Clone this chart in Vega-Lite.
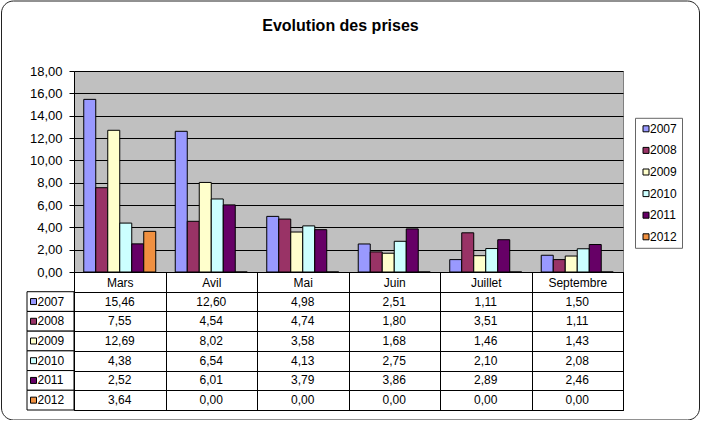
{
  "$schema": "https://vega.github.io/schema/vega-lite/v6.json",
  "background": "white",
  "padding": 0,
  "title": {"text": "Evolution des prises", "font": "Liberation Sans", "fontSize": 16, "fontWeight": "bold", "color": "black", "anchor": "middle", "offset": 17.5, "dx": -9.5, "dy": 64, "baseline": "alphabetic"},
  "datasets": {
    "d": [
      {"m": "Mars", "y": "2007", "v": 15.46}, {"m": "Avil", "y": "2007", "v": 12.60}, {"m": "Mai", "y": "2007", "v": 4.98}, {"m": "Juin", "y": "2007", "v": 2.51}, {"m": "Juillet", "y": "2007", "v": 1.11}, {"m": "Septembre", "y": "2007", "v": 1.50},
      {"m": "Mars", "y": "2008", "v": 7.55}, {"m": "Avil", "y": "2008", "v": 4.54}, {"m": "Mai", "y": "2008", "v": 4.74}, {"m": "Juin", "y": "2008", "v": 1.80}, {"m": "Juillet", "y": "2008", "v": 3.51}, {"m": "Septembre", "y": "2008", "v": 1.11},
      {"m": "Mars", "y": "2009", "v": 12.69}, {"m": "Avil", "y": "2009", "v": 8.02}, {"m": "Mai", "y": "2009", "v": 3.58}, {"m": "Juin", "y": "2009", "v": 1.68}, {"m": "Juillet", "y": "2009", "v": 1.46}, {"m": "Septembre", "y": "2009", "v": 1.43},
      {"m": "Mars", "y": "2010", "v": 4.38}, {"m": "Avil", "y": "2010", "v": 6.54}, {"m": "Mai", "y": "2010", "v": 4.13}, {"m": "Juin", "y": "2010", "v": 2.75}, {"m": "Juillet", "y": "2010", "v": 2.10}, {"m": "Septembre", "y": "2010", "v": 2.08},
      {"m": "Mars", "y": "2011", "v": 2.52}, {"m": "Avil", "y": "2011", "v": 6.01}, {"m": "Mai", "y": "2011", "v": 3.79}, {"m": "Juin", "y": "2011", "v": 3.86}, {"m": "Juillet", "y": "2011", "v": 2.89}, {"m": "Septembre", "y": "2011", "v": 2.46},
      {"m": "Mars", "y": "2012", "v": 3.64}, {"m": "Avil", "y": "2012", "v": 0}, {"m": "Mai", "y": "2012", "v": 0}, {"m": "Juin", "y": "2012", "v": 0}, {"m": "Juillet", "y": "2012", "v": 0}, {"m": "Septembre", "y": "2012", "v": 0}
    ]
  },
  "columns": 2,
  "spacing": 0,
  "bounds": "flush",
  "align": "each",
  "concat": [
    {
      "width": 47, "height": 201,
      "data": {"values": []},
      "view": {"stroke": null},
      "mark": "point",
      "encoding": {}
    },
    {
      "width": 549, "height": 201,
      "data": {"name": "d"},
      "view": {"fill": "#C0C0C0", "stroke": "#808080"},
      "mark": {"type": "bar", "stroke": "black", "strokeWidth": 1, "opacity": 1},
      "encoding": {
        "x": {"field": "m", "type": "nominal", "scale": {"domain": ["Mars", "Avil", "Mai", "Juin", "Juillet", "Septembre"], "paddingInner": 0.2131, "paddingOuter": 0.1066}, "axis": null},
        "xOffset": {"field": "y", "type": "nominal", "scale": {"domain": ["2007", "2008", "2009", "2010", "2011", "2012"], "paddingInner": 0, "paddingOuter": 0}},
        "y": {"field": "v", "type": "quantitative", "scale": {"domain": [0, 18], "nice": false, "zero": true},
          "axis": {"values": [0, 2, 4, 6, 8, 10, 12, 14, 16, 18], "labelExpr": "replace(format(datum.value, '.2f'), '.', ',')", "title": null, "grid": true, "gridColor": "black", "gridOpacity": 1, "gridWidth": 1, "domain": true, "domainColor": "black", "ticks": true, "tickColor": "black", "tickSize": 5, "labelPadding": 7, "labelFont": "Liberation Sans", "labelFontSize": 13, "labelColor": "black"}},
        "color": {"field": "y", "type": "nominal",
          "scale": {"domain": ["2007", "2008", "2009", "2010", "2011", "2012"], "range": ["#9999FF", "#993366", "#FFFFCC", "#CCFFFF", "#660066", "#F09040"]},
          "legend": {"orient": "none", "legendX": 608, "legendY": 46.8, "title": null, "symbolType": "square", "symbolSize": 36, "symbolStrokeColor": "black", "symbolStrokeWidth": 1, "symbolOpacity": 1, "labelFont": "Liberation Sans", "labelFontSize": 12, "labelColor": "black", "padding": 5, "strokeColor": "#666666", "rowPadding": 9.6, "labelOffset": -2, "fillColor": "white"}}
      }
    },
    {
      "width": 47, "height": 138,
      "data": {"name": "d"},
      "transform": [{"filter": "datum.m == 'Mars'"}],
      "view": {"stroke": null},
      "encoding": {
        "y": {"field": "y", "type": "nominal", "scale": {"domain": ["", "2007", "2008", "2009", "2010", "2011", "2012"], "paddingInner": 0, "paddingOuter": 0}, "axis": null}
      },
      "layer": [
        {"mark": {"type": "rect", "fill": "white", "stroke": "black", "strokeWidth": 1}},
        {"mark": {"type": "point", "shape": "square", "filled": true, "size": 36, "stroke": "black", "strokeWidth": 1, "opacity": 1, "xOffset": -17},
         "encoding": {"color": {"field": "y", "type": "nominal"}}},
        {"mark": {"type": "text", "align": "left", "dx": -13, "font": "Liberation Sans", "fontSize": 12, "color": "black"},
         "encoding": {"text": {"field": "y"}}}
      ]
    },
    {
      "width": 549, "height": 138,
      "data": {"name": "d"},
      "view": {"stroke": "black", "fill": "white"},
      "transform": [{"calculate": "replace(format(datum.v, '.2f'), '.', ',')", "as": "lab"}],
      "mark": {"type": "text", "font": "Liberation Sans", "fontSize": 12, "color": "black", "strokeOpacity": 0},
      "encoding": {
        "x": {"field": "m", "type": "nominal", "scale": {"domain": ["Mars", "Avil", "Mai", "Juin", "Juillet", "Septembre"], "paddingInner": 0, "paddingOuter": 0},
          "axis": {"orient": "top", "tickBand": "extent", "grid": true, "gridColor": "black", "gridOpacity": 1, "gridWidth": 1, "ticks": false, "tickSize": 0, "domain": false, "labelPadding": -10, "labelBaseline": "middle", "labelAngle": 0, "labelFont": "Liberation Sans", "labelFontSize": 12, "labelColor": "black", "title": null}},
        "y": {"field": "y", "type": "nominal", "scale": {"domain": ["", "2007", "2008", "2009", "2010", "2011", "2012"], "paddingInner": 0, "paddingOuter": 0},
          "axis": {"tickBand": "extent", "grid": true, "gridColor": "black", "gridOpacity": 1, "gridWidth": 1, "ticks": false, "domain": false, "labels": false, "title": null}},
        "text": {"field": "lab"},
        "stroke": {"field": "v", "type": "quantitative", "scale": {"range": ["black", "black"]},
          "legend": {"orient": "none", "legendX": -26, "legendY": -70.5, "direction": "horizontal", "title": null, "values": [], "gradientLength": 698, "gradientThickness": 419, "gradientOpacity": 0, "gradientStrokeWidth": 0, "labelOpacity": 0, "labelFontSize": 8, "labelOffset": 0, "padding": 0, "strokeColor": "#222222", "cornerRadius": 12}}
      }
    }
  ]
}
